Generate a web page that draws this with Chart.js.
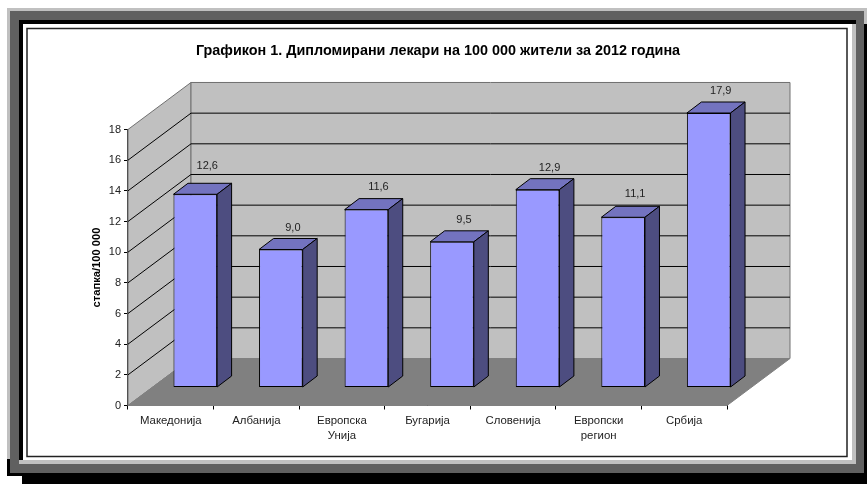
<!DOCTYPE html>
<html>
<head>
<meta charset="utf-8">
<title>Графикон 1</title>
<script src="https://cdn.jsdelivr.net/npm/chart.js@4"></script>
<style>
  html, body { margin: 0; padding: 0; background: #fff; }
  #wrap { width: 867px; height: 484px; }
</style>
</head>
<body>
<div id="wrap"><canvas id="chart"></canvas></div>
<script>
const categories = ['Македонија', 'Албанија', ['Европска', 'Унија'], 'Бугарија', 'Словенија', ['Европски', 'регион'], 'Србија'];
const values = [12.6, 9.0, 11.6, 9.5, 12.9, 11.1, 17.9];
const yTicks = [0, 2, 4, 6, 8, 10, 12, 14, 16, 18];

const FONT = '"Liberation Sans", Arial, sans-serif';
const TEXT = '#222';

// 3D look: offset of the back wall, of the bars on the floor and of a bar's depth
const WALL = { dx: 63, dy: -47 };
const BAR_POS = { dx: 24.5, dy: -18 };
const BAR_DEPTH = { dx: 14.5, dy: -11 };
// how far each value label sits above its bar (the first one was moved up in the original)
const LABEL_LIFT = [28, 22, 23, 22, 22, 23, 22];

function fillPoly(ctx, pts, fill, stroke) {
    ctx.beginPath();
    pts.forEach((p, i) => i ? ctx.lineTo(p[0], p[1]) : ctx.moveTo(p[0], p[1]));
    ctx.closePath();
    ctx.fillStyle = fill;
    ctx.fill();
    if (stroke) {
        ctx.strokeStyle = stroke;
        ctx.lineWidth = 1;
        ctx.stroke();
    }
}

// Double frame round the whole picture
const framePlugin = {
    id: 'frame',
    beforeDraw(chart) {
        const ctx = chart.ctx;
        ctx.save();
        // black shadow
        ctx.fillStyle = '#000';
        ctx.fillRect(22, 24, 845, 460);
        ctx.fillRect(7, 459, 15, 17);
        // light edge, top and left
        ctx.fillStyle = '#c0c0c0';
        ctx.fillRect(7, 8, 860, 16);
        ctx.fillRect(7, 8, 3, 451);
        // dark band
        ctx.fillStyle = '#606060';
        ctx.fillRect(10, 11, 854, 462);
        // inner black and light edges
        ctx.fillStyle = '#000';
        ctx.fillRect(19, 20, 837, 440);
        ctx.fillStyle = '#c0c0c0';
        ctx.fillRect(19, 460, 837, 4);
        ctx.fillRect(852, 24, 4, 440);
        ctx.fillStyle = '#fff';
        ctx.fillRect(23, 24, 829, 436);
        ctx.strokeStyle = '#222';
        ctx.lineWidth = 1.5;
        ctx.strokeRect(27, 28.5, 820, 428);
        ctx.restore();
    }
};

// Walls, floor, grid lines and the top and side faces of the bars
const box3dPlugin = {
    id: 'box3d',
    beforeDatasetsDraw(chart) {
        const ctx = chart.ctx;
        const { left, right, top, bottom } = chart.chartArea;
        const y = chart.scales.y;
        ctx.save();

        fillPoly(ctx, [[left, bottom], [left + WALL.dx, bottom + WALL.dy], [left + WALL.dx, top + WALL.dy], [left, top]], '#c0c0c0', '#707070');
        fillPoly(ctx, [[left + WALL.dx, top + WALL.dy], [right + WALL.dx, top + WALL.dy], [right + WALL.dx, bottom + WALL.dy], [left + WALL.dx, bottom + WALL.dy]], '#c0c0c0', '#707070');
        fillPoly(ctx, [[left, bottom], [right, bottom], [right + WALL.dx, bottom + WALL.dy], [left + WALL.dx, bottom + WALL.dy]], '#808080', '#808080');

        ctx.strokeStyle = '#000';
        ctx.lineWidth = 1;
        yTicks.slice(1, -1).forEach(v => {
            const py = y.getPixelForValue(v);
            ctx.beginPath();
            ctx.moveTo(left, py);
            ctx.lineTo(left + WALL.dx, py + WALL.dy);
            ctx.lineTo(right + WALL.dx, py + WALL.dy);
            ctx.stroke();
        });

        // the library's own bars are moved back onto the floor
        ctx.translate(BAR_POS.dx, BAR_POS.dy);
        chart.getDatasetMeta(0).data.forEach(bar => {
            const l = bar.x - bar.width / 2, r = bar.x + bar.width / 2;
            const t = bar.y, b = bar.base;
            const d = BAR_DEPTH;
            fillPoly(ctx, [[l, t], [r, t], [r + d.dx, t + d.dy], [l + d.dx, t + d.dy]], '#7373bf', '#000');
            fillPoly(ctx, [[r, t], [r + d.dx, t + d.dy], [r + d.dx, b + d.dy], [r, b]], '#4d4d80', '#000');
        });
        ctx.restore();

        ctx.save();
        ctx.translate(BAR_POS.dx, BAR_POS.dy);
    },
    afterDatasetsDraw(chart) {
        const ctx = chart.ctx;
        ctx.restore();

        // value labels above the bars, with a decimal comma
        ctx.save();
        ctx.font = '11px ' + FONT;
        ctx.fillStyle = TEXT;
        ctx.textAlign = 'center';
        ctx.textBaseline = 'middle';
        chart.getDatasetMeta(0).data.forEach((bar, i) => {
            const label = values[i].toFixed(1).replace('.', ',');
            ctx.fillText(label, bar.x + BAR_POS.dx + 12, bar.y + BAR_POS.dy - LABEL_LIFT[i]);
        });
        ctx.restore();
    }
};

new Chart(document.getElementById('chart'), {
    type: 'bar',
    data: {
        labels: categories,
        datasets: [{
            data: values,
            backgroundColor: '#9999ff',
            borderColor: '#000',
            borderWidth: 1,
            borderSkipped: false,
            barPercentage: 0.51,
            categoryPercentage: 1
        }]
    },
    options: {
        responsive: true,
        maintainAspectRatio: false,
        animation: false,
        layout: { padding: { left: 9, right: 0, top: 0, bottom: 0 } },
        plugins: {
            legend: { display: false },
            tooltip: { enabled: false },
            title: {
                display: true,
                text: 'Графикон 1. Дипломирани лекари на 100 000 жители за 2012 година',
                color: '#000',
                font: { family: FONT, size: 14.4, weight: 'bold' },
                padding: { top: 42.4, bottom: 69.8 }
            }
        },
        scales: {
            x: {
                grid: { drawOnChartArea: false, color: '#000', tickLength: 4 },
                border: { color: '#000' },
                ticks: {
                    color: TEXT,
                    font: { family: FONT, size: 11.4, lineHeight: 1.28 },
                    maxRotation: 0,
                    autoSkip: false,
                    padding: 4.5
                },
                afterFit: s => { s.height = 78.5; }
            },
            y: {
                min: 0,
                max: 18,
                afterBuildTicks: s => { s.ticks = yTicks.map(v => ({ value: v })); },
                grid: { drawOnChartArea: false, color: '#000', tickLength: 4 },
                border: { color: '#333', width: 1.5 },
                ticks: {
                    color: TEXT,
                    font: { family: FONT, size: 11 },
                    padding: 3
                },
                title: {
                    display: true,
                    text: 'стапка/100 000',
                    color: '#000',
                    font: { family: FONT, size: 11.2, weight: 'bold' },
                    padding: { top: 81, bottom: 0 }
                },
                afterFit: s => { s.width = 119; }
            },
            // empty axis, keeps the room the back wall needs on the right
            side: {
                position: 'right',
                display: true,
                grid: { display: false },
                border: { display: false },
                ticks: { display: false },
                afterFit: s => { s.width = 140; }
            }
        }
    },
    plugins: [framePlugin, box3dPlugin]
});
</script>
</body>
</html>
